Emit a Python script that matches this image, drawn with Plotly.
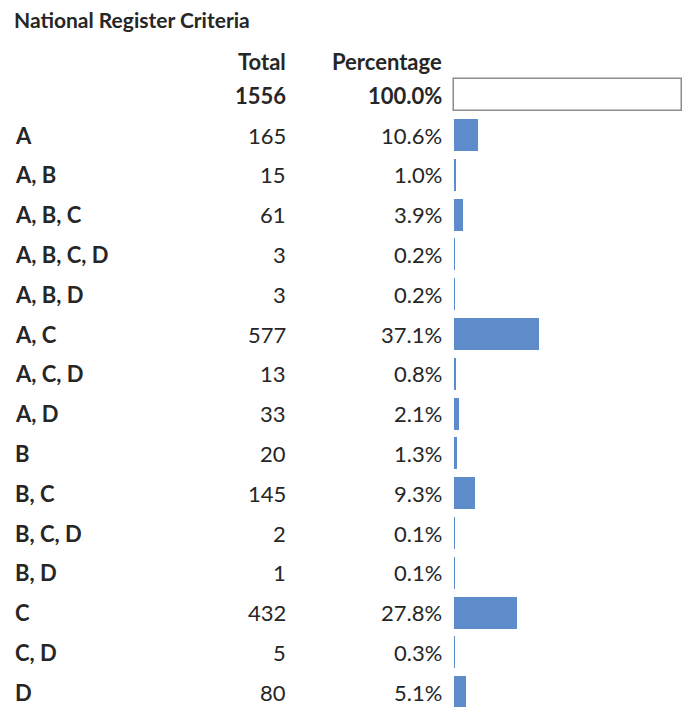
import plotly.graph_objects as go

title = "National Register Criteria"
col_headers = ["Total", "Percentage"]
grand_total = 1556
grand_pct = 1.0
categories = ["A", "A, B", "A, B, C", "A, B, C, D", "A, B, D", "A, C", "A, C, D",
              "A, D", "B", "B, C", "B, C, D", "B, D", "C", "C, D", "D"]
totals = [165, 15, 61, 3, 3, 577, 13, 33, 20, 145, 2, 1, 432, 5, 80]
percentages = [0.106, 0.010, 0.039, 0.002, 0.002, 0.371, 0.008, 0.021, 0.013,
               0.093, 0.001, 0.001, 0.278, 0.003, 0.051]

# page body has an 8px margin; figure is placed at (8, 8)
OFF = 8
W, H = 691 - 2 * OFF, 715 - 2 * OFF
ROW0 = 135 - OFF   # pixel centre of first category row
STEP = 39.8        # row pitch
rows = list(range(len(categories)))
y_top = -ROW0 / STEP
y_bot = (H - ROW0) / STEP


def yrow(px_ref):
    return (px_ref - OFF - ROW0) / STEP


BAR_X0 = 454 - OFF
BAR_PX = 228.0
dom_left = 440 - OFF
x_lo = -(BAR_X0 - dom_left) / BAR_PX
x_hi = 1 + (W - (BAR_X0 + BAR_PX)) / BAR_PX

FONT = "Lato"
TXT = "#262626"
BAR = "#5E8CCB"
FS = 22
COL_TOTAL = (288 - OFF) / W
COL_PCT = (444 - OFF) / W
COL_LABEL = (13 - OFF) / W

fig = go.Figure()

fig.add_trace(go.Bar(
    x=[grand_pct], y=[-1], orientation="h", width=0.8,
    marker=dict(color="#FFFFFF", line=dict(color="#8C8C8C", width=1.5)),
    hoverinfo="skip", showlegend=False))

fig.add_trace(go.Bar(
    x=percentages, y=rows, orientation="h", width=0.8,
    marker=dict(color=BAR, line=dict(width=0)),
    showlegend=False))

ann = []


def add(text, x, y, anchor, size=FS):
    ann.append(dict(text=text, x=x, xref="paper", y=y, yref="y",
                    xanchor=anchor, yanchor="middle", showarrow=False,
                    font=dict(family=FONT, size=size, color=TXT)))


add("<b>" + title + "</b>", (12 - OFF) / W, yrow(19), "left", 21)
add("<b>" + col_headers[0] + "</b>", COL_TOTAL, yrow(61), "right")
add("<b>" + col_headers[1] + "</b>", COL_PCT, yrow(61), "right")
add("<b>%d</b>" % grand_total, COL_TOTAL, -1, "right")
add("<b>%.1f%%</b>" % (grand_pct * 100), COL_PCT, -1, "right")

for i, (c, t, p) in enumerate(zip(categories, totals, percentages)):
    add("<b>" + c + "</b>", COL_LABEL, i, "left", 22)
    add(str(t), COL_TOTAL, i, "right")
    add("%.1f%%" % (p * 100), COL_PCT, i, "right")

fig.update_layout(
    width=W, height=H,
    margin=dict(l=0, r=0, t=0, b=0),
    paper_bgcolor="white", plot_bgcolor="white",
    xaxis=dict(domain=[dom_left / W, 1.0], range=[x_lo, x_hi], visible=False, fixedrange=True),
    yaxis=dict(range=[y_bot, y_top], visible=False, fixedrange=True),
    annotations=ann,
    bargap=0,
)

fig.write_html("out.html")
